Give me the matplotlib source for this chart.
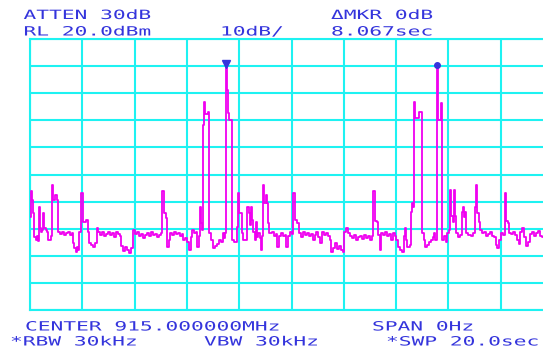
import numpy as np
import matplotlib
matplotlib.use('Agg')
import matplotlib.pyplot as plt
import matplotlib.patheffects as pe
from matplotlib.transforms import Affine2D

# zero-span trace: (sweep time [s], level [dBm]) breakpoints, held until the next point
trace_pts = [
    (0.00, -45.7), (0.04, -36.1), (0.08, -39.4), (0.11, -44.2), (0.15, -53.1), (0.23, -54.2),
    (0.27, -52.7), (0.31, -54.5), (0.34, -42.0), (0.38, -49.7), (0.42, -51.2), (0.46, -50.5),
    (0.50, -44.2), (0.54, -49.7), (0.61, -50.5), (0.65, -51.2), (0.69, -54.2), (0.80, -52.7),
    (0.84, -33.9), (0.88, -39.4), (0.96, -37.6), (1.03, -39.4), (1.07, -51.2), (1.15, -52.0),
    (1.22, -51.2), (1.30, -52.3), (1.38, -51.6), (1.45, -51.2), (1.53, -52.3), (1.61, -51.6),
    (1.64, -55.3), (1.68, -57.1), (1.76, -58.6), (1.80, -56.8), (1.84, -57.9), (1.87, -51.2),
    (1.95, -36.8), (2.03, -47.5), (2.14, -46.8), (2.22, -51.2), (2.26, -55.3), (2.33, -56.0),
    (2.41, -56.8), (2.49, -55.3), (2.56, -49.7), (2.60, -51.2), (2.68, -52.3),
    (2.75, -51.2), (2.83, -52.7), (2.91, -52.0), (2.98, -51.2), (3.06, -52.3), (3.14, -51.6),
    (3.21, -53.1), (3.29, -51.2), (3.37, -52.0), (3.44, -52.7), (3.48, -56.4), (3.56, -58.2),
    (3.63, -56.8), (3.71, -57.9), (3.79, -59.0), (3.86, -57.1), (3.94, -50.5), (4.02, -52.0),
    (4.09, -51.2), (4.17, -52.7), (4.24, -52.0), (4.32, -53.4), (4.40, -52.3), (4.47, -51.6),
    (4.55, -52.7), (4.63, -51.2), (4.70, -52.3), (4.78, -52.0), (4.86, -53.1), (4.93, -52.3),
    (5.01, -51.6), (5.05, -36.1), (5.12, -44.2), (5.20, -46.1), (5.24, -56.8), (5.32, -54.2),
    (5.35, -51.6), (5.43, -52.3), (5.51, -51.2), (5.58, -52.0), (5.66, -51.6), (5.74, -52.7),
    (5.81, -52.0), (5.85, -54.2), (5.93, -53.4), (6.00, -54.9), (6.08, -57.9), (6.16, -53.1),
    (6.20, -50.5), (6.27, -51.6), (6.35, -51.2), (6.39, -56.8), (6.46, -52.7), (6.50, -42.0),
    (6.54, -47.9),
    # first burst
    (6.58, -50.5), (6.62, -11.7), (6.65, -3.2), (6.69, -7.7), (6.81, -6.9), (6.85, -51.6),
    (6.92, -54.2), (7.00, -57.1), (7.07, -56.4), (7.15, -55.6), (7.23, -54.2), (7.30, -54.9),
    (7.38, -51.6), (7.42, -53.4), (7.46, -51.6), (7.50, 10.0), (7.53, 1.2), (7.57, -7.3),
    (7.61, -9.9), (7.72, -54.2),
    (7.80, -54.9), (7.92, -49.4), (7.95, -36.8), (7.99, -44.2), (8.11, -51.6), (8.15, -54.2),
    (8.30, -42.0), (8.37, -44.2), (8.41, -48.6), (8.45, -42.0), (8.49, -46.8), (8.53, -51.2),
    (8.60, -54.2), (8.64, -47.5), (8.68, -53.1), (8.72, -51.6), (8.80, -53.4), (8.83, -57.9),
    (8.87, -52.7), (8.91, -33.9), (8.95, -40.5), (9.02, -37.6), (9.06, -40.5), (9.10, -47.9),
    (9.14, -51.6), (9.25, -51.2), (9.33, -52.7), (9.41, -52.0), (9.45, -56.8), (9.52, -52.7),
    (9.60, -51.6), (9.67, -52.7), (9.75, -52.3), (9.79, -56.8), (9.87, -52.7), (9.94, -51.2),
    (10.02, -52.0), (10.06, -36.8), (10.13, -46.8), (10.21, -47.9), (10.29, -51.6),
    (10.36, -53.1), (10.44, -51.2), (10.52, -52.3), (10.59, -51.6), (10.67, -52.7), (10.75, -52.0),
    (10.82, -54.2), (10.90, -52.3), (10.94, -51.2), (11.01, -53.1), (11.09, -55.3), (11.17, -51.2),
    (11.24, -52.3), (11.32, -51.6), (11.40, -52.7), (11.47, -54.2), (11.51, -58.6), (11.59, -57.1),
    (11.66, -55.3), (11.74, -57.5), (11.82, -56.4), (11.89, -57.9), (11.97, -58.6), (12.01, -51.2),
    (12.08, -49.7), (12.16, -51.6), (12.24, -52.7), (12.31, -53.4), (12.39, -52.3), (12.47, -54.2),
    (12.54, -53.1), (12.62, -52.7), (12.70, -53.8), (12.77, -52.3), (12.85, -53.4), (12.93, -52.7),
    (13.00, -54.2), (13.08, -52.7), (13.12, -36.1), (13.19, -47.2), (13.27, -47.5), (13.31, -52.3),
    (13.38, -57.9), (13.42, -51.6), (13.50, -52.3), (13.58, -51.2), (13.65, -52.7), (13.73, -52.0),
    (13.80, -54.2), (13.88, -51.6), (13.96, -52.7), (14.00, -54.2), (14.07, -56.8), (14.15, -57.9),
    (14.23, -58.6), (14.30, -52.7), (14.34, -49.7), (14.38, -54.2), (14.42, -56.8), (14.53, -56.0),
    (14.57, -43.8), (14.61, -40.5), (14.65, -42.0),
    # second burst
    (14.68, -3.2), (14.72, -9.2), (14.88, -6.9), (14.99, -51.6), (15.07, -54.2), (15.11, -56.8),
    (15.18, -56.0), (15.26, -54.9), (15.33, -54.2), (15.41, -53.1), (15.45, -51.6), (15.49, -54.2),
    (15.567, 10.0), (15.60, -9.9), (15.72, -3.6), (15.76, -54.2),
    (15.83, -52.7), (15.91, -54.9), (15.95, -51.6), (16.02, -50.5), (16.06, -35.7), (16.10, -45.3),
    (16.18, -47.5), (16.21, -35.7), (16.25, -45.3), (16.29, -51.6), (16.37, -53.1), (16.44, -52.3),
    (16.52, -43.8), (16.56, -42.0), (16.60, -45.7), (16.63, -43.8), (16.67, -51.6), (16.75, -52.3),
    (16.86, -52.7), (16.94, -51.6), (17.02, -42.0), (17.06, -33.9), (17.09, -44.2), (17.17, -47.5),
    (17.21, -50.5), (17.28, -51.6), (17.36, -51.2), (17.44, -52.7), (17.51, -52.0), (17.59, -51.2),
    (17.67, -52.7), (17.74, -53.1), (17.82, -56.0), (17.86, -57.1), (17.93, -54.2), (18.01, -51.6),
    (18.09, -52.3), (18.16, -36.8), (18.20, -47.2), (18.28, -47.9), (18.32, -51.6), (18.39, -52.0),
    (18.47, -51.2), (18.55, -52.3), (18.62, -54.2), (18.70, -55.6), (18.74, -51.2), (18.81, -49.7),
    (18.89, -53.1), (18.97, -56.4), (19.04, -54.9), (19.12, -52.0), (19.20, -51.2), (19.27, -52.7),
    (19.35, -51.6), (19.43, -50.8), (19.50, -52.7), (19.58, -53.1), (19.69, -52.3), (20.00, -52.7),
]

ref_level = 20.0      # dBm, top graticule line
db_div = 10           # dB per division
sweep_time = 20.0     # s
mkr_ref_t = 7.50      # s
mkr_delta_t = 15.567  # s, 8.067 s after the reference marker
mkr_level = 10.0      # dBm

header_lines = [("ATTEN 30dB", "\u0394MKR 0dB"), ("RL 20.0dBm", "8.067sec")]
scale_label = "10dB/"
footer_top = ["CENTER 915.000000MHz", "SPAN 0Hz"]
footer_bot = ["*RBW 30kHz", "VBW 30kHz", "*SWP 20.0sec"]

CYAN = '#1ef2f2'
MAGENTA = '#f000f0'
BLUE = '#3434dc'


class Widen(pe.AbstractPathEffect):
    """stretch glyphs sideways, like the wide screen font of the analyser"""
    def __init__(self, sx):
        super().__init__()
        self.sx = sx

    def draw_path(self, renderer, gc, tpath, affine, rgbFace=None):
        renderer.draw_path(gc, tpath, Affine2D().scale(self.sx, 1) + affine, rgbFace)


W, H = 543, 349
fig = plt.figure(figsize=(W / 100, H / 100), dpi=100, facecolor='white')
ax = fig.add_axes([30 / W, 39 / H, 523 / W, 271 / H])

t = np.array([p[0] for p in trace_pts])
lv = np.array([p[1] for p in trace_pts])

ax.set_xlim(0, sweep_time)
ax.set_ylim(ref_level - 10 * db_div, ref_level)
ax.set_xticks(np.arange(0, sweep_time + 0.01, sweep_time / 10))
ax.set_yticks(np.arange(ref_level - 10 * db_div, ref_level + 0.1, db_div))
ax.tick_params(length=0, labelbottom=False, labelleft=False)
ax.grid(True, color=CYAN, lw=1.5)
ax.set_axisbelow(True)
for s in ax.spines.values():
    s.set_color(CYAN)
    s.set_linewidth(1.5)

ax.plot(t, lv, drawstyle='steps-post', color=MAGENTA, lw=1.3, zorder=3)

# markers: reference (triangle) and delta (dot)
ax.plot([mkr_ref_t], [mkr_level + 0.6], marker='v', ms=6, color=BLUE, ls='none', zorder=4, clip_on=False)
ax.plot([mkr_delta_t], [mkr_level + 0.3], marker='o', ms=4, color=BLUE, ls='none', zorder=4, clip_on=False)

fs = 9.2
wide = [Widen(1.66)]


def label(x, y, s):
    fig.text(x / W, 1 - y / H, s, color=BLUE, fontsize=fs, family='DejaVu Sans Mono',
             ha='left', va='baseline', path_effects=wide)


label(23.5, 19, header_lines[0][0])
label(331, 19, header_lines[0][1])
label(23.5, 35.5, header_lines[1][0])
label(220, 35.5, scale_label)
label(331, 35.5, header_lines[1][1])
label(25, 330.5, footer_top[0])
label(372, 330.5, footer_top[1])
label(10, 345.5, footer_bot[0])
label(204, 345.5, footer_bot[1])
label(386, 345.5, footer_bot[2])

fig.savefig('out.png', dpi=100, facecolor='white')
